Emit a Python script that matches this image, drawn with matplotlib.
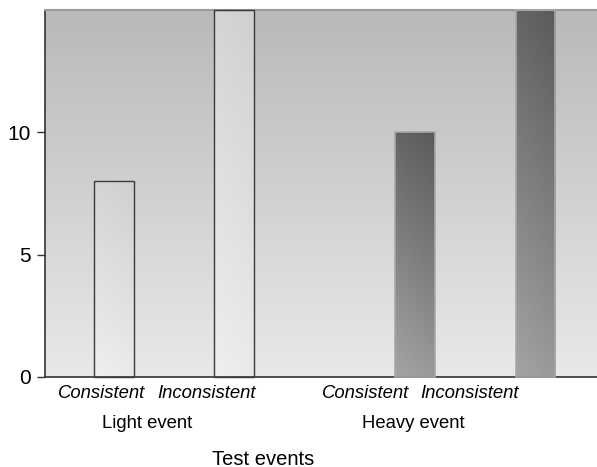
import numpy as np
import matplotlib.pyplot as plt
from matplotlib.colors import LinearSegmentedColormap

plt.rcParams['font.family'] = ['Liberation Sans', 'DejaVu Sans']

# data
conditions = ["Consistent", "Inconsistent", "Consistent", "Inconsistent"]
groups = ["Light event", "Heavy event"]
values = [8, 15, 10, 15]
bar_pos = [0, 1, 2.5, 3.5]
kind = ["light", "light", "heavy", "heavy"]

fig = plt.figure(figsize=(5.97, 4.67), dpi=100)
ax = fig.add_axes([0.0754, 0.193, 0.9246, 0.7856])
ax.set_xlim(-0.57, 4.01)
ax.set_ylim(0, 15)

# background gradient
bg = LinearSegmentedColormap.from_list("bg", ["#e9e9e9", "#b9b9b9"])
ax.imshow(np.linspace(0, 1, 256).reshape(-1, 1), cmap=bg, aspect='auto',
          extent=[-0.57, 4.01, 0, 15], origin='lower', zorder=0)

light_cmap = LinearSegmentedColormap.from_list("lt", ["#efefef", "#d0d0d0"])
heavy_cmap = LinearSegmentedColormap.from_list("hv", ["#a4a4a4", "#5a5a5a"])

w = 0.33
bars = ax.bar(bar_pos, values, width=w, color='none', zorder=3, clip_on=False)
for b, k, x, v in zip(bars, kind, bar_pos, values):
    if k == "light":
        b.set_edgecolor("#3a3a3a")
        b.set_linewidth(1.0)
        cm = light_cmap
    else:
        b.set_edgecolor("#a8a8a8")
        b.set_linewidth(1.2)
        cm = heavy_cmap
    yy, xx = np.mgrid[0:1:200j, 0:1:50j]
    grad = 0.85 * yy + 0.15 * xx
    im = ax.imshow(grad, cmap=cm, aspect='auto', origin='lower',
                   extent=[x - w / 2, x + w / 2, 0, v], zorder=2)
    im.set_clip_path(b)

ax.set_yticks([0, 5, 10])
ax.tick_params(axis='y', labelsize=15, length=6, width=1, color="#333333", pad=4.5)
ax.set_xticks([])

for s in ['left', 'bottom']:
    ax.spines[s].set_color("#333333")
    ax.spines[s].set_linewidth(1.2)
ax.spines['top'].set_color("#9a9a9a")
ax.spines['top'].set_linewidth(1.5)
ax.spines['right'].set_visible(False)

# category labels
label_x = [-0.10, 0.77, 2.09, 2.95]
for lx, t in zip(label_x, conditions):
    ax.text(lx, -0.045, t, transform=ax.get_xaxis_transform(), ha='center',
            va='center', fontsize=13.3, style='italic')
group_x = [0.28, 2.49]
for gx, g in zip(group_x, groups):
    ax.text(gx, -0.126, g, transform=ax.get_xaxis_transform(), ha='center',
            va='center', fontsize=13.3)
ax.text(1.24, -0.224, "Test events", transform=ax.get_xaxis_transform(),
        ha='center', va='center', fontsize=14.5)

fig.savefig("out.png", dpi=100)
